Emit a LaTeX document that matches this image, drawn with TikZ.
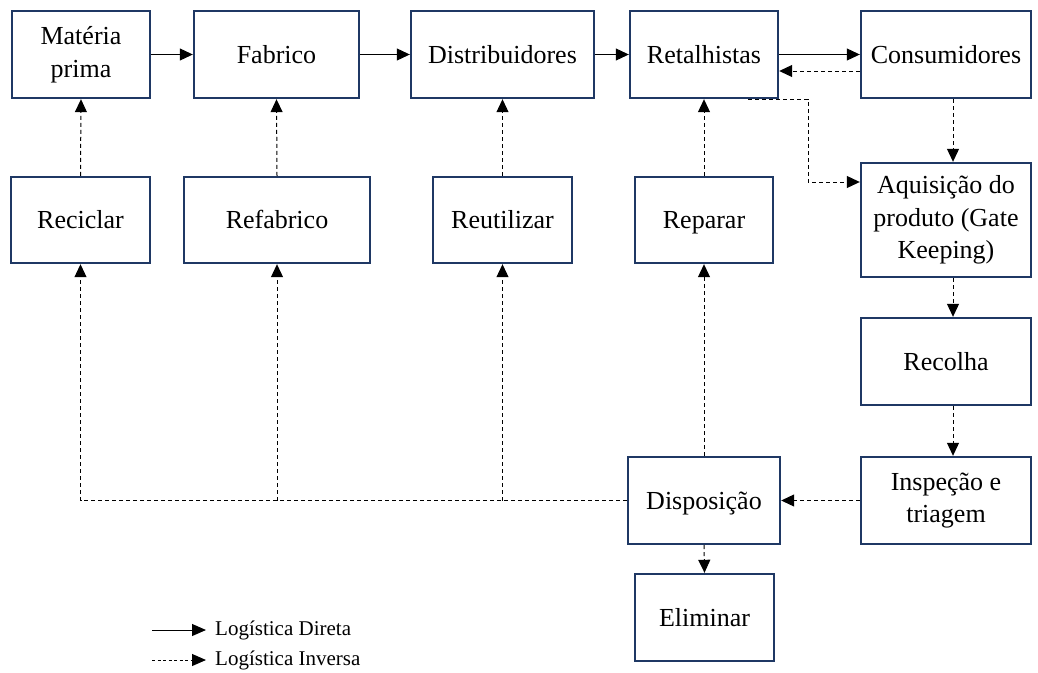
\documentclass[tikz,border=0pt]{standalone}
\usepackage{fontspec}
\setmainfont{Liberation Serif}
\usetikzlibrary{arrows.meta,calc}
\definecolor{navy}{HTML}{1F3864}
\tikzset{
  box/.style={draw=navy,line width=2.4pt,fill=white,rectangle,align=center,
    font=\fontsize{26}{32.5}\selectfont,inner sep=2pt},
  one/.style={text height=18pt,text depth=1pt},
  fwd/.style={line width=1pt,-{Triangle[length=13pt,width=12pt]}},
  rev/.style={line width=1pt,dash pattern=on 4pt off 3pt,-{Triangle[length=13pt,width=12pt]}},
  legtext/.style={anchor=west,font=\fontsize{21}{24}\selectfont,inner sep=0pt}
}
\begin{document}
\begin{tikzpicture}[x=1pt,y=-1pt]
\useasboundingbox (0,0) rectangle (1038,672);
% top row
\node[box,minimum width=138pt,minimum height=87pt] (mat) at (81,54.5) {Matéria\\prima};
\node[box,one,minimum width=165pt,minimum height=87pt] (fab) at (276.5,54.5) {Fabrico};
\node[box,one,minimum width=183pt,minimum height=87pt] (dist) at (502.5,54.5) {Distribuidores};
\node[box,one,minimum width=148pt,minimum height=87pt] (ret) at (704,54.5) {Retalhistas};
\node[box,one,minimum width=170pt,minimum height=87pt] (cons) at (946,54.5) {Consumidores};
% second row
\node[box,one,minimum width=139pt,minimum height=86pt] (recic) at (80.5,220) {Reciclar};
\node[box,one,minimum width=186pt,minimum height=86pt] (refab) at (277,220) {Refabrico};
\node[box,one,minimum width=139pt,minimum height=86pt] (reut) at (502.5,220) {Reutilizar};
\node[box,one,minimum width=138pt,minimum height=86pt] (repar) at (704,220) {Reparar};
\node[box,minimum width=170pt,minimum height=114pt] (aq) at (946,220) {Aquisição do\\produto (Gate\\Keeping)};
% right column
\node[box,one,minimum width=170pt,minimum height=87pt] (rec) at (946,361.5) {Recolha};
\node[box,minimum width=170pt,minimum height=87pt] (insp) at (946,500.5) {Inspeção e\\triagem};
\node[box,one,minimum width=152pt,minimum height=87pt] (disp) at (704,500.5) {Disposição};
\node[box,one,minimum width=139pt,minimum height=87pt] (elim) at (704.5,617.5) {Eliminar};
% forward flow
\draw[fwd] (mat.east) -- (fab.west);
\draw[fwd] (fab.east) -- (dist.west);
\draw[fwd] (dist.east) -- (ret.west);
\draw[fwd] (ret.east) -- (cons.west);
% reverse flow
\draw[rev] ([yshift=-16.5pt]cons.west) -- ([yshift=-16.5pt]ret.east);
\coordinate (bend) at (808,182);
\draw[rev] ([xshift=-31pt]ret.south east) -| (bend) -- (aq.west |- bend);
\draw[rev] ([xshift=7pt]cons.south) -- ([xshift=7pt]aq.north);
\draw[rev] ([xshift=7pt]aq.south) -- ([xshift=7pt]rec.north);
\draw[rev] ([xshift=7pt]rec.south) -- ([xshift=7pt]insp.north);
\draw[rev] (insp.west) -- (disp.east);
\draw[rev] (disp.south) -- (elim.north);
\draw[rev] (disp.north) -- (repar.south);
\draw[rev] (disp.west) -| (recic.south);
\draw[rev] (refab.south |- disp.west) -- (refab.south);
\draw[rev] (reut.south |- disp.west) -- (reut.south);
\draw[rev] (recic.north) -- (mat.south);
\draw[rev] (refab.north) -- (fab.south);
\draw[rev] (reut.north) -- (dist.south);
\draw[rev] (repar.north) -- (ret.south);
% legend
\coordinate (l1a) at (152,630);
\node[legtext] (l1) at (215,630) {Logística Direta};
\draw[line width=1pt,-{Triangle[length=14pt,width=12pt]}] (l1a) -- ([xshift=-9pt]l1.west);
\coordinate (l2a) at (152,660);
\node[legtext] (l2) at (215,660) {Logística Inversa};
\draw[line width=1pt,dash pattern=on 3pt off 2.5pt,-{Triangle[length=14pt,width=12pt]}] (l2a) -- ([xshift=-9pt]l2.west);
\end{tikzpicture}
\end{document}
